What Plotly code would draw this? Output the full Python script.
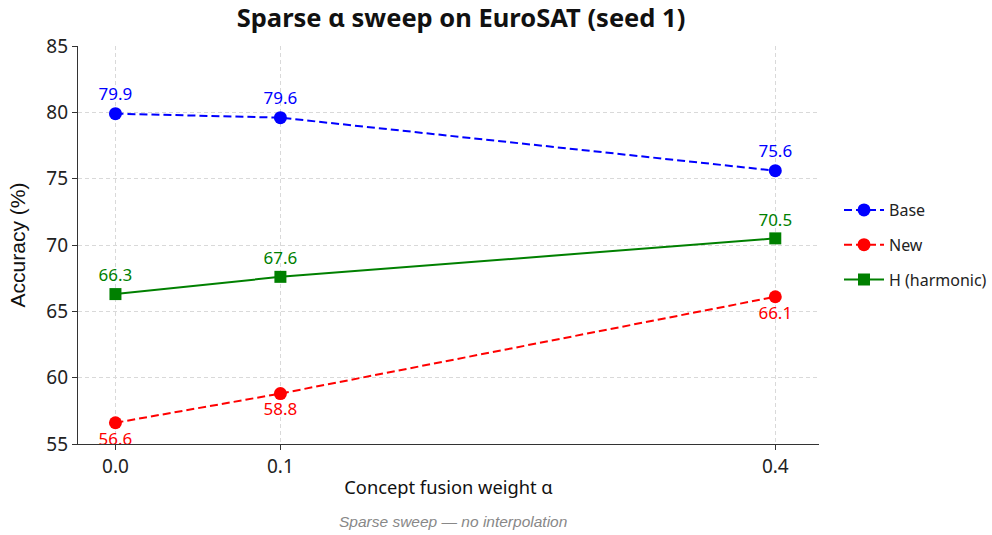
import plotly.graph_objects as go

alpha = [0.0, 0.1, 0.4]
alpha_labels = ["0.0", "0.1", "0.4"]
base = [79.9, 79.6, 75.6]
new = [56.6, 58.8, 66.1]
harmonic = [66.3, 67.6, 70.5]

FONT = "Noto Sans"

L, R, T, B = 78, 819, 46, 444
W, H = 992, 535
PW, PH = R - L, B - T

fig = go.Figure()

series = [
    ("Base", base, "#0000ff", "8px,4px", "circle", 13, "top center"),
    ("New", new, "#ff0000", "8px,4px", "circle", 13, "bottom center"),
    ("H (harmonic)", harmonic, "#008000", "solid", "square", 12, "top center"),
]

for name, vals, color, dash, symbol, msize, tpos in series:
    fig.add_trace(go.Scatter(
        x=alpha, y=vals, name=name, mode="lines+markers+text",
        line=dict(color=color, width=2, dash=dash),
        marker=dict(color=color, symbol=symbol, size=msize),
        text=[f"{v:.1f}" for v in vals],
        textposition=tpos,
        textfont=dict(family=FONT, size=17, color=color),
        legendgroup=name,
        cliponaxis=False,
    ))

axis_common = dict(
    showline=True, linecolor="#333333", linewidth=1.3,
    ticks="outside", ticklen=5, tickcolor="#333333",
    showgrid=True, gridcolor="#d9d9d9", griddash="4px,3px", gridwidth=1,
    zeroline=False, mirror=False, automargin=False,
    tickfont=dict(family=FONT, size=19, color="#222222"),
)

fig.update_xaxes(
    range=[-0.0227, 0.4265], tickvals=alpha, ticktext=alpha_labels,
    title=dict(text="Concept fusion weight α", font=dict(family=FONT, size=18.3, color="#111111"), standoff=3),
    **axis_common,
)
fig.update_yaxes(
    range=[55, 85], tickvals=[55, 60, 65, 70, 75, 80, 85],
    title=dict(text="Accuracy (%)", font=dict(family="Liberation Sans", size=21, color="#111111"), standoff=14),
    **axis_common,
)

fig.update_layout(
    width=W, height=H,
    margin=dict(l=L, r=W - R, t=T, b=H - B, autoexpand=False),
    paper_bgcolor="white", plot_bgcolor="white",
    title=dict(text="<b>Sparse α sweep on EuroSAT (seed 1)</b>", x=461 / W, xanchor="center",
               y=1 - 18 / H, yanchor="middle",
               font=dict(family=FONT, size=25.5, color="#111111")),
    legend=dict(x=(839 - L) / PW, xanchor="left", y=1 - (193 - T) / PH, yanchor="top",
                font=dict(family=FONT, size=16, color="#222222"),
                itemwidth=40,
                tracegroupgap=11, bgcolor="rgba(0,0,0,0)"),
    showlegend=True,
)

fig.add_annotation(
    text="<i>Sparse sweep — no interpolation</i>", xref="paper", yref="paper",
    x=(453 - L) / PW, y=-(521 - B) / PH, xanchor="center", yanchor="middle",
    showarrow=False, font=dict(family="Liberation Sans", size=15.5, color="#888888"),
)

fig.write_html("out.html", config={"displayModeBar": False},
               post_script="document.body.style.margin='0';document.body.style.overflow='hidden';")
